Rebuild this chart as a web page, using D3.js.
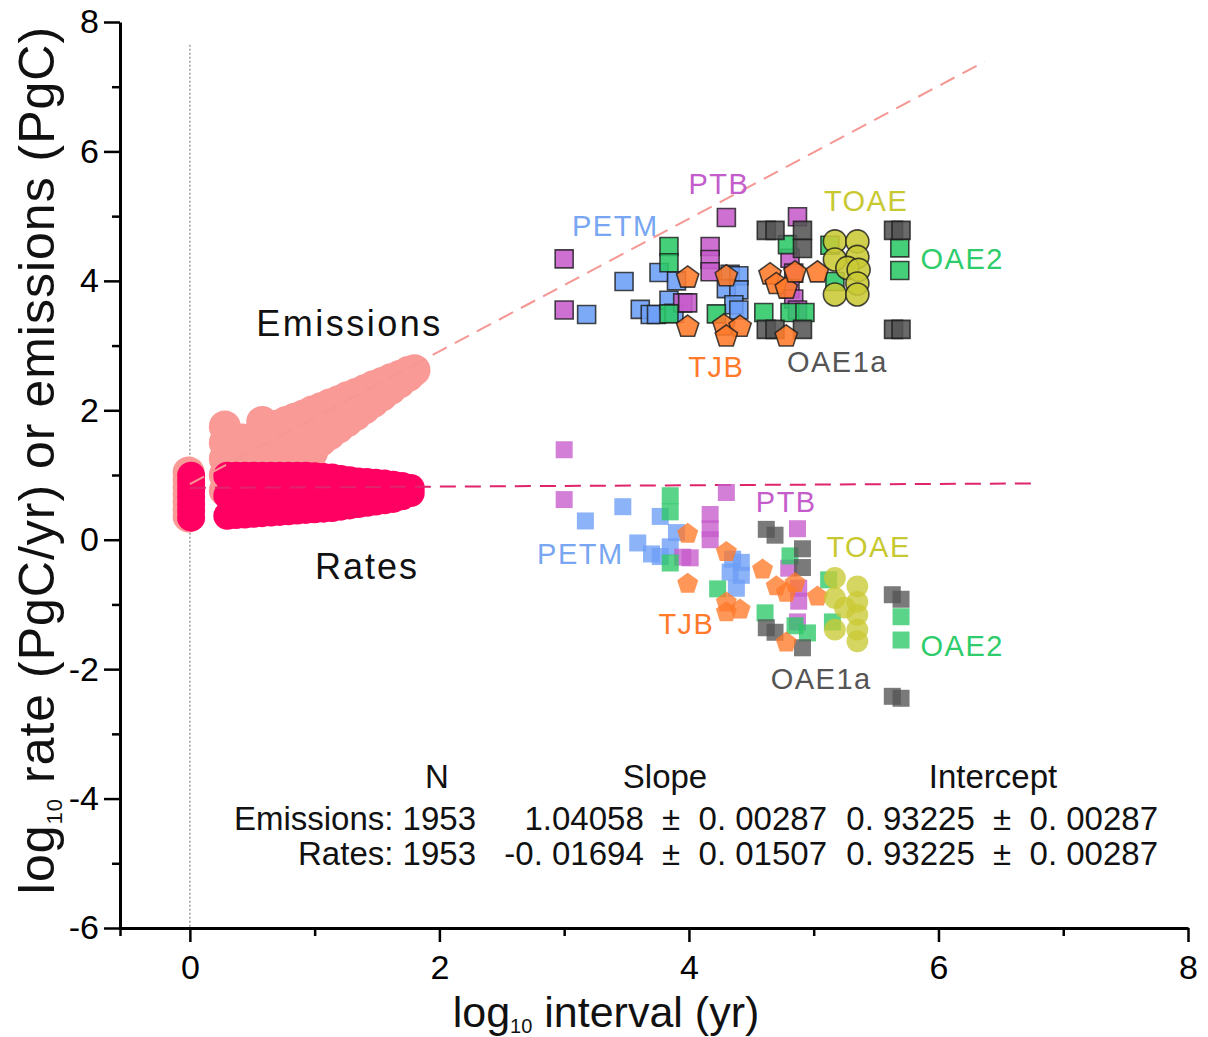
<!DOCTYPE html>
<html>
<head>
<meta charset="utf-8">
<script src="https://cdn.jsdelivr.net/npm/d3@7"></script>
<style>
  body { margin: 0; background: #fff; }
  text { font-family: "Liberation Sans", Arial, sans-serif; }
</style>
</head>
<body>
<svg id="chart"></svg>
<script>
// ---- data (log10 interval, log10 value) ----

// modern record, many overlapping dots: columns of [log interval, [log values...]]
const modernEmissions = [
  [-0.01, [0.36, 0.47, 0.58, 0.70, 0.81, 0.93, 1.04]],
  [0.28, [0.76, 1.00, 1.25, 1.50, 1.75]],
  [0.42, [1.00, 1.30, 1.55]],
  [0.58, [1.00, 1.30, 1.55, 1.82]],
  [0.70, [1.00, 1.30, 1.55, 1.76]],
  [0.77, [1.00, 1.27, 1.54, 1.82]],
  [0.84, [1.00, 1.30, 1.60, 1.87]],
  [0.91, [1.00, 1.30, 1.60, 1.92]],
  [0.98, [1.05, 1.35, 1.65, 1.98]],
  [1.05, [1.53, 1.78, 2.03]],
  [1.12, [1.63, 1.86, 2.09]],
  [1.19, [1.73, 1.94, 2.14]],
  [1.26, [1.83, 2.02, 2.20]],
  [1.33, [1.93, 2.09, 2.25]],
  [1.40, [2.03, 2.17, 2.31]],
  [1.47, [2.13, 2.37]],
  [1.54, [2.23, 2.42]],
  [1.61, [2.33, 2.48]],
  [1.68, [2.43, 2.53]],
  [1.75, [2.53, 2.59]],
  [1.80, [2.62]]
];
const modernRates = [
  [0.01, [0.34, 0.45, 0.55, 0.66, 0.77, 0.88, 0.99]],
  [0.30, [0.37, 0.68, 0.99]],
  [0.37, [0.38, 0.68, 0.99]],
  [0.44, [0.39, 0.69, 0.99]],
  [0.51, [0.40, 0.69, 0.99]],
  [0.58, [0.41, 0.70, 0.99]],
  [0.65, [0.42, 0.70, 0.99]],
  [0.72, [0.43, 0.71, 0.99]],
  [0.79, [0.44, 0.71, 0.99]],
  [0.86, [0.45, 0.72, 0.99]],
  [0.93, [0.46, 0.72, 0.99]],
  [1.00, [0.47, 0.72, 0.98]],
  [1.07, [0.48, 0.72, 0.97]],
  [1.14, [0.49, 0.72, 0.96]],
  [1.21, [0.51, 0.72, 0.94]],
  [1.28, [0.53, 0.72, 0.92]],
  [1.35, [0.55, 0.73, 0.90]],
  [1.42, [0.57, 0.89]],
  [1.49, [0.59, 0.88]],
  [1.56, [0.61, 0.87]],
  [1.63, [0.63, 0.85]],
  [1.70, [0.67, 0.83]],
  [1.77, [0.72, 0.80]]
];

// regression lines (end points)
const emissionsFit = [[0, 0.86], [6.37, 7.39]];
const ratesFit = [[0, 0.80], [6.75, 0.87]];

// past events: emissions
const petmE = [[3.18, 3.48], [3.48, 3.99], [3.61, 3.56], [3.69, 3.48], [3.74, 3.48], [3.76, 4.13],
  [3.84, 3.70], [3.90, 4.00], [3.88, 3.50], [4.33, 4.10], [4.40, 4.08], [4.30, 3.88],
  [4.40, 3.86], [4.36, 3.63], [4.40, 3.55]];
const ptbE = [[3.00, 4.34], [3.00, 3.55], [3.95, 3.66], [3.99, 3.66], [4.17, 4.53], [4.17, 4.33],
  [4.17, 4.14], [4.30, 4.98], [4.87, 4.99], [4.81, 4.35], [4.84, 4.12], [4.81, 3.88],
  [4.84, 3.72], [4.87, 3.55]];
const oae2E = [[3.84, 4.53], [3.84, 4.28], [3.84, 3.49], [4.22, 3.49], [4.60, 3.51], [4.79, 4.56],
  [4.81, 3.51], [4.93, 3.51], [5.13, 4.55], [5.17, 3.99], [5.69, 4.51], [5.69, 4.16]];
const oae1aE = [[4.62, 4.78], [4.69, 4.78], [4.91, 4.78], [4.91, 4.50], [4.62, 3.25], [4.69, 3.25],
  [4.91, 3.25], [5.64, 4.78], [5.70, 4.78], [5.64, 3.25], [5.70, 3.25]];
const tjbE = [[3.99, 4.05], [3.99, 3.29], [4.30, 4.07], [4.28, 3.31], [4.41, 3.29], [4.30, 3.14],
  [4.65, 4.10], [4.70, 3.95], [4.78, 3.88], [4.85, 4.13], [5.03, 4.13], [4.78, 3.14]];
const toaeE = [[5.17, 4.61], [5.35, 4.61], [5.35, 4.37], [5.17, 4.33], [5.27, 4.20], [5.36, 4.17],
  [5.35, 3.96], [5.17, 3.79], [5.35, 3.79]];

// past events: rates
const petmR = [[3.17, 0.29], [3.47, 0.51], [3.59, -0.05], [3.70, -0.22], [3.77, -0.26], [3.77, 0.36],
  [3.90, 0.11], [3.85, -0.11], [4.35, -0.30], [4.42, -0.35], [4.33, -0.50], [4.42, -0.55],
  [4.38, -0.75]];
const ptbR = [[3.00, 1.39], [3.00, 0.62], [3.95, -0.27], [4.01, -0.28], [4.17, 0.39], [4.17, 0.17],
  [4.17, 0.00], [4.30, 0.73], [4.87, 0.17], [4.80, -0.44], [4.88, -0.75], [4.88, -0.95],
  [4.87, -1.27]];
const oae2R = [[3.85, 0.68], [3.85, 0.43], [3.85, -0.36], [4.23, -0.76], [4.61, -1.13], [4.81, -0.25],
  [4.85, -1.33], [4.95, -1.44], [5.12, -0.62], [5.15, -1.27], [5.70, -1.19], [5.70, -1.55]];
const oae1aR = [[4.62, 0.16], [4.69, 0.07], [4.91, -0.14], [4.91, -0.43], [4.62, -1.36], [4.69, -1.43],
  [4.91, -1.67], [5.63, -0.85], [5.70, -0.92], [5.63, -2.42], [5.70, -2.45]];
const tjbR = [[3.99, 0.09], [3.99, -0.68], [4.30, -0.19], [4.30, -0.97], [4.41, -1.08], [4.30, -1.12],
  [4.59, -0.46], [4.70, -0.72], [4.78, -0.82], [4.85, -0.67], [5.03, -0.88], [4.78, -1.59]];
const toaeR = [[5.17, -0.59], [5.35, -0.72], [5.17, -0.90], [5.25, -1.05], [5.35, -0.96], [5.35, -1.16],
  [5.17, -1.39], [5.35, -1.39], [5.35, -1.57]];

// event names, drawing order and label anchors (data coords)
const events = ['PETM', 'PTB', 'OAE2', 'OAE1a', 'TJB', 'TOAE'];
const emissionsByEvent = [petmE, ptbE, oae2E, oae1aE, tjbE, toaeE];
const ratesByEvent = [petmR, ptbR, oae2R, oae1aR, tjbR, toaeR];
const shapes = ['square', 'square', 'square', 'square', 'pentagon', 'circle'];
const emissionsLabelPos = [[3.41, 4.85], [4.24, 5.49], [6.19, 4.34], [5.19, 2.74], [4.22, 2.67], [5.42, 5.24]];
const ratesLabelPos = [[3.13, -0.22], [4.78, 0.59], [6.19, -1.64], [5.06, -2.15], [3.98, -1.31], [5.44, -0.11]];

// axis ticks
const xTicks = [0, 2, 4, 6, 8];
const xMinorTicks = [1, 3, 5, 7];
const yTicks = [-6, -4, -2, 0, 2, 4, 6, 8];
const yMinorTicks = [-5, -3, -1, 1, 3, 5, 7];

// fit table (wide gaps round the ± as in the figure)
const tableHeader = ['N', 'Slope', 'Intercept'];
const tableRows = [
  ['Emissions: 1953', '1.04058\u00a0\u00a0±\u00a0\u00a00. 00287', '0. 93225\u00a0\u00a0±\u00a0\u00a00. 00287'],
  ['Rates: 1953', '-0. 01694\u00a0\u00a0±\u00a0\u00a00. 01507', '0. 93225\u00a0\u00a0±\u00a0\u00a00. 00287']
];

// ---- styling ----
const colors = ['#6b9ef6', '#c75bcc', '#2bc866', '#555555', '#ff7a2a', '#c9c935'];
const labelColors = ['#78a6f2', '#c55ccc', '#2ecc6a', '#555555', '#ff7a2a', '#c8c830'];

const W = 1208, H = 1037;
const svg = d3.select('#chart').attr('width', W).attr('height', H);

const x = d3.scaleLinear().domain([-0.56, 8]).range([120, 1188]);
const y = d3.scaleLinear().domain([-6, 8]).range([928, 22]);

const flatten = cols => cols.flatMap(([lx, ys]) => ys.map(v => [lx, v]));

// vertical reference at log interval = 0
svg.append('line')
  .attr('x1', x(0)).attr('x2', x(0))
  .attr('y1', y(7.65)).attr('y2', y(-6))
  .attr('stroke', '#9a9a9a').attr('stroke-width', 1.5)
  .attr('stroke-dasharray', '2,2');

// modern blobs
svg.append('g').selectAll('circle')
  .data(flatten(modernEmissions)).join('circle')
  .attr('cx', d => x(d[0])).attr('cy', d => y(d[1]))
  .attr('r', 16).attr('fill', '#f99a97');

svg.append('g').selectAll('circle')
  .data(flatten(modernRates)).join('circle')
  .attr('cx', d => x(d[0])).attr('cy', d => y(d[1]))
  .attr('r', 14).attr('fill', '#ff0062');

// fit lines
const line = d3.line().x(d => x(d[0])).y(d => y(d[1]));
svg.append('path').datum(emissionsFit)
  .attr('d', line).attr('fill', 'none')
  .attr('stroke', '#f59793').attr('stroke-width', 2).attr('stroke-dasharray', '16,9');
svg.append('path').datum(ratesFit)
  .attr('d', line).attr('fill', 'none')
  .attr('stroke', '#e0246c').attr('stroke-width', 2).attr('stroke-dasharray', '16,9');

// marker shapes
function pentagon(r) {
  const pts = d3.range(5).map(k => {
    const a = -Math.PI / 2 + k * 2 * Math.PI / 5;
    return [r * Math.cos(a), r * Math.sin(a)];
  });
  return 'M' + pts.map(p => p.join(',')).join('L') + 'Z';
}
function markerPath(shape, s) {
  if (shape === 'square') return d3.symbol(d3.symbolSquare, s * s)();
  if (shape === 'circle') return d3.symbol(d3.symbolCircle, Math.PI * (s * 0.64) * (s * 0.64))();
  return pentagon(s * 0.65);
}

// emissions markers (outlined)
events.forEach((ev, i) => {
  svg.append('g').attr('class', 'emis ' + ev)
    .selectAll('path').data(emissionsByEvent[i]).join('path')
    .attr('transform', d => `translate(${x(d[0])},${y(d[1])})`)
    .attr('d', markerPath(shapes[i], 18))
    .attr('fill', colors[i]).attr('fill-opacity', 0.88)
    .attr('stroke', '#1a1a1a').attr('stroke-width', 1.6).attr('stroke-opacity', 0.8);
});

// rate markers (no outline)
events.forEach((ev, i) => {
  svg.append('g').attr('class', 'rate ' + ev)
    .selectAll('path').data(ratesByEvent[i]).join('path')
    .attr('transform', d => `translate(${x(d[0])},${y(d[1])})`)
    .attr('d', markerPath(shapes[i], 17))
    .attr('fill', colors[i]).attr('fill-opacity', 0.78);
});

// event labels
events.forEach((ev, i) => {
  [emissionsLabelPos[i], ratesLabelPos[i]].forEach(p => {
    svg.append('text')
      .attr('x', x(p[0])).attr('y', y(p[1]))
      .attr('text-anchor', 'middle').attr('dominant-baseline', 'central')
      .attr('font-size', 29).attr('letter-spacing', 1.5)
      .attr('fill', labelColors[i])
      .text(ev);
  });
});

svg.append('text').attr('x', x(1.28)).attr('y', y(3.34))
  .attr('text-anchor', 'middle').attr('dominant-baseline', 'central')
  .attr('font-size', 36).attr('letter-spacing', 2.5).attr('fill', '#111')
  .text('Emissions');
svg.append('text').attr('x', x(1.42)).attr('y', y(-0.42))
  .attr('text-anchor', 'middle').attr('dominant-baseline', 'central')
  .attr('font-size', 36).attr('letter-spacing', 2).attr('fill', '#111')
  .text('Rates');

// fit table
const table = svg.append('g').attr('font-size', 33).attr('fill', '#111');
[437, 665, 993].forEach((cx, i) => {
  table.append('text').attr('x', cx).attr('y', 788)
    .attr('text-anchor', 'middle').text(tableHeader[i]);
});
tableRows.forEach((row, r) => {
  [476, 827, 1158].forEach((rx, c) => {
    table.append('text').attr('x', rx).attr('y', 830 + r * 35)
      .attr('text-anchor', 'end').text(row[c]);
  });
});

// axes
const fmt = d => String(d);
const xAxisG = svg.append('g').attr('transform', `translate(0,${y(-6)})`);
xAxisG.call(d3.axisBottom(x).tickValues(xTicks).tickFormat(fmt).tickSize(14).tickSizeOuter(0).tickPadding(13));
xAxisG.append('g').call(d3.axisBottom(x).tickValues(xMinorTicks.concat([x.domain()[0]])).tickFormat('').tickSize(8).tickSizeOuter(0))
  .select('.domain').remove();

const yAxisG = svg.append('g').attr('transform', `translate(${x(-0.56)},0)`);
yAxisG.call(d3.axisLeft(y).tickValues(yTicks).tickFormat(fmt).tickSize(16).tickSizeOuter(0).tickPadding(5));
yAxisG.append('g').call(d3.axisLeft(y).tickValues(yMinorTicks).tickFormat('').tickSize(8).tickSizeOuter(0))
  .select('.domain').remove();

svg.selectAll('.domain').attr('stroke', '#000').attr('stroke-width', 3);
svg.selectAll('.tick line').attr('stroke', '#000').attr('stroke-width', 2.5);
svg.selectAll('.tick text').attr('font-size', 34).attr('fill', '#000')
  .style('font-family', '"Liberation Sans", Arial, sans-serif');

// axis titles
const xt = svg.append('text').attr('x', 606).attr('y', 1027)
  .attr('text-anchor', 'middle').attr('font-size', 43).attr('fill', '#111');
xt.append('tspan').text('log');
xt.append('tspan').attr('font-size', 20).attr('dy', 6).text('10');
xt.append('tspan').attr('dy', -6).text(' interval (yr)');

const yt = svg.append('text')
  .attr('transform', 'translate(54,460) rotate(-90)')
  .attr('text-anchor', 'middle').attr('font-size', 50).attr('letter-spacing', 1)
  .attr('fill', '#111');
yt.append('tspan').text('log');
yt.append('tspan').attr('font-size', 22).attr('dy', 8).text('10');
yt.append('tspan').attr('dy', -8).text(' rate (PgC/yr) or emissions (PgC)');
</script>
</body>
</html>
